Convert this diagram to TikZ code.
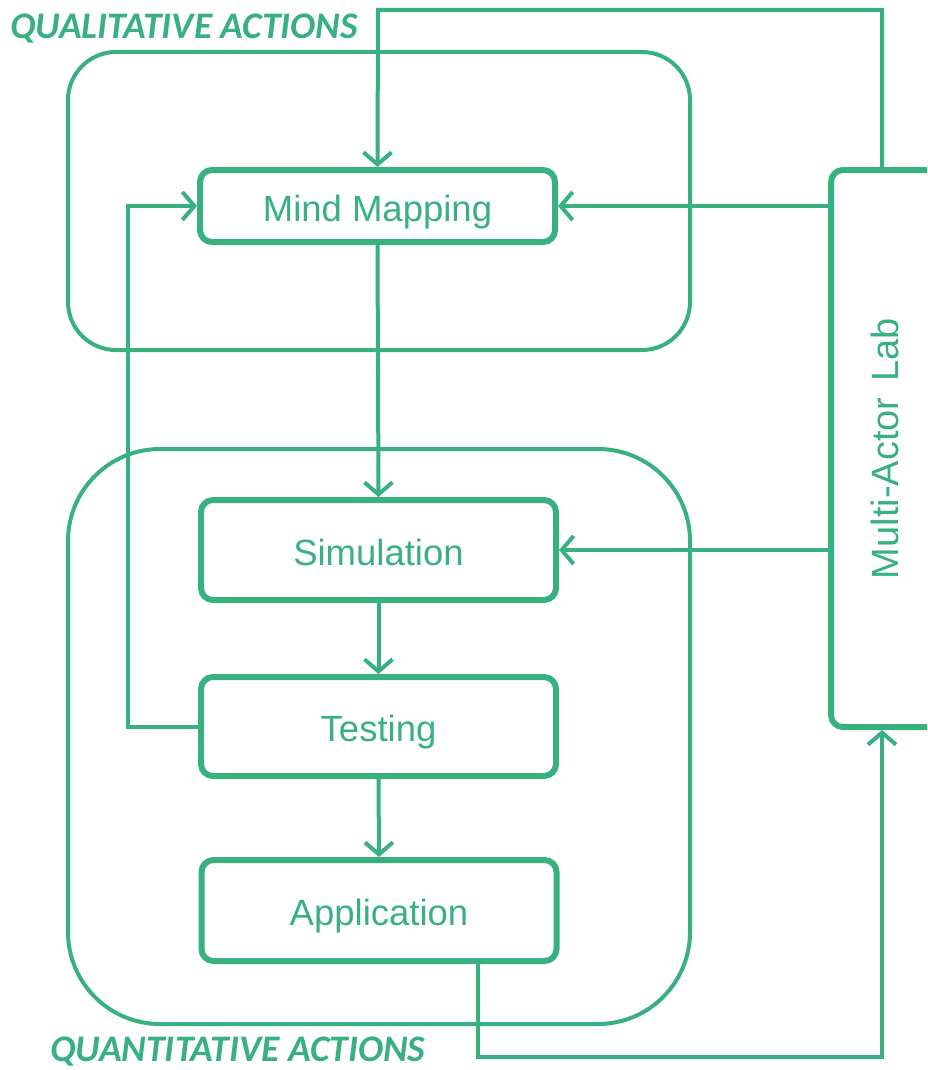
\documentclass[tikz,border=0pt]{standalone}
\usepackage{fontspec}
\setmainfont{Liberation Sans}
\newfontfamily\labfont{Carlito}
\usetikzlibrary{arrows.meta}
\definecolor{gr}{RGB}{56,176,128}
\tikzset{
  stepbox/.style={draw=gr, line width=6pt, rounded corners=12pt, minimum width=355pt, minimum height=72pt, text=gr, font=\fontsize{36.5}{40}\selectfont, inner sep=0pt, text height=30pt, text depth=0pt},
  container/.style={draw=gr, line width=4pt, inner sep=0pt},
  conn/.style={draw=gr, line width=4pt, -{Straight Barb[length=12pt, width=28pt, line width=4pt]}},
  grouplabel/.style={text=gr, font=\labfont\bfseries\itshape\fontsize{37.5}{40}\selectfont, inner sep=0pt, anchor=base west}
}
\begin{document}
\begin{tikzpicture}[x=1pt,y=-1pt]
\useasboundingbox (0,0) rectangle (927,1070);
\clip (0,0) rectangle (927,1070);
% containers
\node[container, rounded corners=48pt, minimum width=622pt, minimum height=298pt] (qual) at (379,201) {};
\node[container, rounded corners=92pt, minimum width=622pt, minimum height=575pt] (quant) at (379,736.5) {};
% group labels
\node[grouplabel] (qualtxt) at (10,38.5) {QUALITATIVE ACTIONS};
\node[grouplabel] (quanttxt) at (50,1061) {QUANTITATIVE ACTIONS};
% steps
\node[stepbox] (mm) at (377.5,206) {Mind Mapping};
\node[stepbox, minimum height=100pt] (sim) at (378.5,550) {Simulation};
\node[stepbox, minimum height=99pt] (test) at (378.5,726.5) {Testing};
\node[stepbox, minimum height=101pt] (app) at (379,910.5) {Application};
\node[stepbox, minimum width=109pt, minimum height=557pt] (lab) at (885.5,448.5) {};
\node[text=gr, font=\fontsize{38}{40}\selectfont, rotate=90, inner sep=0pt] (labtxt) at (885,448.5) {Multi-Actor\hspace{0.15em} Lab};
% helper coordinates
\coordinate (topr) at (882,10);
\coordinate (topl) at (378,10);
\coordinate (loop) at (128,0);
\coordinate (bot) at (478,1057);
% connectors
\draw[conn] (lab.north -| topr) -- (topr) -- (topl) -- (mm.north);
\draw[conn] (lab.west |- mm.east) -- (mm.east);
\draw[conn] (lab.west |- sim.east) -- (sim.east);
\draw[conn] (mm.south) -- (sim.north);
\draw[conn] (sim.south) -- (test.north);
\draw[conn] (test.south) -- (app.north);
\draw[conn] (test.west) -- (test.west -| loop) -- (mm.west -| loop) -- (mm.west);
\draw[conn] (app.south -| bot) -- (bot) -- (bot -| topr) -- (lab.south -| topr);
\end{tikzpicture}
\end{document}
